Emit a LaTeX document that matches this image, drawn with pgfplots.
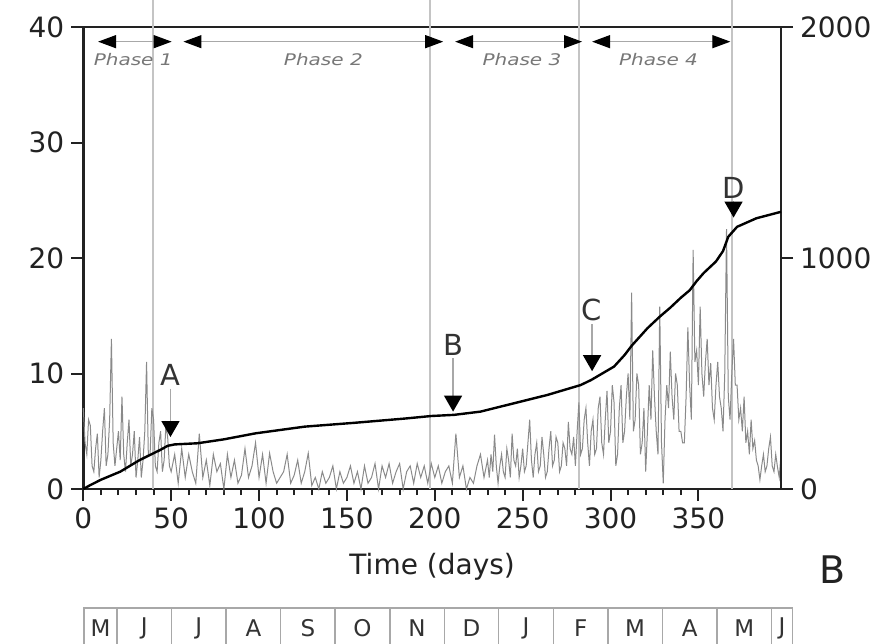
\documentclass[border=0pt]{standalone}
\usepackage{fontspec}
\setmainfont{DejaVu Sans}
\usepackage{pgfplots}
\pgfplotsset{compat=1.18}
\usepackage{pgfplotstable}
\usetikzlibrary{arrows.meta}

\definecolor{axisc}{HTML}{222222}
\definecolor{noisec}{HTML}{8A8A8A}
\definecolor{vlinec}{HTML}{C4C4C4}
\definecolor{boxc}{HTML}{A8A8A8}
\definecolor{textc}{HTML}{333333}
\definecolor{phasec}{HTML}{777777}

\pgfplotstableread{
day val
0 7
1 4
2 3
3 6
4 5.5
5 2
6 1.5
7 3.5
8 4.8
9 1
10 2.5
11 5
12 7
13 2
14 3
15 6
16 13
17 4
18 2
19 3.5
20 5
21 2.5
22 8
23 3
24 1.5
25 4
26 6
27 2
28 3
29 5
30 1
31 2.5
32 4.5
33 1
34 2.5
35 5
36 11
37 3
38 3
39 7
40 6
41 2
42 1.5
43 4
44 5
45 1.5
46 2.5
47 5.5
48 4.5
49 2
50 1.5
52 3
54 0.5
56 3.5
58 1
60 3
62 1.5
64 0.5
66 4.8
68 1
70 2.5
72 0.3
74 3
76 1.5
78 2.2
80 0
82 3
84 1
86 2.5
88 0.5
90 1.2
92 3.5
94 1
96 2
98 4
100 1
102 3
104 0.5
106 3.1
108 1.5
110 0.5
112 1
114 1.5
116 3
118 0.5
120 1.2
122 2.5
124 0.5
126 1.5
128 3.1
130 0.3
132 1
134 0
136 1.5
138 0.5
140 1
142 2
144 0
146 1.5
148 0.5
150 1
152 2
154 0.5
156 1.5
158 0
160 2
162 0.5
164 1
166 2.2
168 0
170 2
172 1
174 2.2
176 0.5
178 1.5
180 2.2
182 0
184 1.5
186 2
188 0.5
190 2.2
192 1
194 2
196 0.5
198 2.2
200 1
202 2
204 0.5
206 1.5
208 2
210 0.5
212 4.8
214 1
216 2
218 0
220 1
222 0.5
224 2
226 3
228 1
230 2.5
231 1
232 3
233 1.5
234 4.7
235 2
236 0.5
237 2
238 3
239 1.5
240 1
241 3.5
242 2.5
243 1
244 4.8
245 2.5
246 2
247 3.5
248 1
249 2
250 3.5
251 1.5
252 2
253 4
254 6
255 2.5
256 1
257 3
258 4
259 1.5
260 2
261 4.5
262 3
263 1
264 1.5
265 3.5
266 5
267 2
268 2.5
269 4.5
270 4
271 1.5
272 2
273 4
274 3.5
275 2
276 5.8
277 3.5
278 3
279 4.5
280 2
281 5
282 7.5
283 3
284 3.5
285 6
286 7
287 4
288 2
289 5
290 6
291 3
292 3.5
293 7
294 8
295 4
296 3
297 6
298 8.5
299 4
300 5
301 9
302 7.5
303 2
304 3
305 7
306 9
307 4
308 5
309 8
310 10
311 6
312 17
313 5
314 6
315 10
316 9
317 3
318 4
319 7
320 1.5
321 5
322 9
323 6
324 12
325 8
326 5
327 3
328 15.8
329 4
330 0.5
331 6
332 9
333 7
334 11.9
335 8
336 6
337 10
338 9
339 5
340 5
341 4
342 4
343 8
344 14
345 9
346 6
347 20.7
348 11
349 12
350 9
351 15.8
352 10
353 8
354 11
355 13
356 9
357 10.9
358 7
359 6
360 9
361 11
362 8
363 7
364 5
365 10
366 22.5
367 8
368 6
369 10
370 13
371 9
372 9
373 6
374 7
375 5
376 8
377 4
378 5
379 3
380 6
381 3.5
382 4.2
383 2.5
384 2
385 0.8
386 2
387 3
388 1.5
389 2
390 3.5
391 4.5
392 2
393 1.5
394 3
395 1.9
396 1
397 3
}\daily

\pgfplotstableread{
day cum
0 0
4 17
10 40
21 75
32 125
44 170
48 187
52 193
65 198
80 215
98 241
126 270
155 287
183 305
198 316
211 321
226 335
245 371
264 407
283 450
289 472
302 530
308 580
312 620
321 696
328 746
334 785
340 828
345 860
349 900
353 935
360 985
364 1030
367 1092
372 1135
383 1172
397 1200
}\cumul

\begin{document}
\begin{tikzpicture}
\useasboundingbox (-41.65pt,-77pt) rectangle (398.85pt,244.5pt);
\begin{axis}[
  at={(0,0)}, anchor=south west,
  scale only axis, width=348.85pt, height=231pt,
  xmin=0, xmax=397, ymin=0, ymax=40,
  xtick={0,50,...,350}, minor x tick num=4,
  ytick={0,10,...,40},
  tick pos=left, tick align=outside,
  major tick length=6pt, minor tick length=3pt,
  axis line style={axisc, line width=1.2pt},
  tick style={axisc, line width=1pt},
  ticklabel style={font=\fontsize{14}{16}\selectfont, text=axisc},
  /pgf/number format/assume math mode=true,
  /pgf/number format/1000 sep={},
  clip=false,
]
% phase boundary lines
\addplot[vlinec, line width=0.9pt] coordinates {(39.5,0) (39.5,43)};
\addplot[vlinec, line width=0.9pt] coordinates {(197.5,0) (197.5,43)};
\addplot[vlinec, line width=0.9pt] coordinates {(282,0) (282,43)};
\addplot[vlinec, line width=0.9pt] coordinates {(369,0) (369,43)};
% daily series
\addplot[noisec, line width=0.5pt] table[x=day,y=val]{\daily};

% phase arrows
\draw[boxc, line width=0.6pt, {Triangle[length=9pt,width=6.5pt,black]}-{Triangle[length=9pt,width=6.5pt,black]}] (axis cs:8.4,38.73) -- (axis cs:50.3,38.73);
\draw[boxc, line width=0.6pt, {Triangle[length=9pt,width=6.5pt,black]}-{Triangle[length=9pt,width=6.5pt,black]}] (axis cs:57,38.73) -- (axis cs:204.8,38.73);
\draw[boxc, line width=0.6pt, {Triangle[length=9pt,width=6.5pt,black]}-{Triangle[length=9pt,width=6.5pt,black]}] (axis cs:211.6,38.73) -- (axis cs:283.8,38.73);
\draw[boxc, line width=0.6pt, {Triangle[length=9pt,width=6.5pt,black]}-{Triangle[length=9pt,width=6.5pt,black]}] (axis cs:289.5,38.73) -- (axis cs:368.2,38.73);
\node[text=phasec, font=\fontsize{8}{9}\selectfont\itshape, xscale=1.25] at (axis cs:28.4,37.2) {Phase 1};
\node[text=phasec, font=\fontsize{8}{9}\selectfont\itshape, xscale=1.25] at (axis cs:136.6,37.2) {Phase 2};
\node[text=phasec, font=\fontsize{8}{9}\selectfont\itshape, xscale=1.25] at (axis cs:249.6,37.2) {Phase 3};
\node[text=phasec, font=\fontsize{8}{9}\selectfont\itshape, xscale=1.25] at (axis cs:327.3,37.2) {Phase 4};

% event markers
\draw[boxc, line width=0.7pt, -{Triangle[length=8pt,width=9pt,black]}] (axis cs:49.6,8.7) -- (axis cs:49.6,4.5);
\node[text=textc, font=\fontsize{14.5}{16}\selectfont] at (axis cs:49.6,9.9) {A};
\draw[boxc, line width=0.7pt, -{Triangle[length=8pt,width=9pt,black]}] (axis cs:210.4,11.3) -- (axis cs:210.4,6.7);
\node[text=textc, font=\fontsize{14.5}{16}\selectfont] at (axis cs:210.4,12.5) {B};
\draw[boxc, line width=0.7pt, -{Triangle[length=8pt,width=9pt,black]}] (axis cs:289.5,14.3) -- (axis cs:289.5,10.2);
\node[text=textc, font=\fontsize{14.5}{16}\selectfont] at (axis cs:289.5,15.5) {C};
\draw[boxc, line width=0.7pt, -{Triangle[length=8pt,width=9pt,black]}] (axis cs:370,24.9) -- (axis cs:370,23.5);
\node[text=textc, font=\fontsize{14.5}{16}\selectfont] at (axis cs:370,26.1) {D};

% labels
\node[text=axisc, font=\fontsize{14}{16}\selectfont] at (axis cs:198.5,-6.75) {Time (days)};
\node[text=axisc, font=\fontsize{19}{21}\selectfont] at (axis cs:426.3,-7.0) {B};

% month bar
\draw[boxc, line width=0.7pt] (axis cs:0.4,-16) -- (axis cs:0.4,-10.3) -- (axis cs:403.5,-10.3) -- (axis cs:403.5,-16);
\pgfplotsinvokeforeach{19.2,50.2,81.3,112.3,143.3,174.4,205.4,236.4,267.5,298.5,329.5,360.5,391.6}{
  \draw[boxc, line width=0.7pt] (axis cs:#1,-10.3) -- (axis cs:#1,-16);
}
\node[text=textc, font=\fontsize{11.5}{13}\selectfont] at (axis cs:9.8,-12.03) {M};
\node[text=textc, font=\fontsize{11.5}{13}\selectfont] at (axis cs:34.7,-12.03) {J};
\node[text=textc, font=\fontsize{11.5}{13}\selectfont] at (axis cs:65.75,-12.03) {J};
\node[text=textc, font=\fontsize{11.5}{13}\selectfont] at (axis cs:96.8,-12.03) {A};
\node[text=textc, font=\fontsize{11.5}{13}\selectfont] at (axis cs:127.8,-12.03) {S};
\node[text=textc, font=\fontsize{11.5}{13}\selectfont] at (axis cs:158.85,-12.03) {O};
\node[text=textc, font=\fontsize{11.5}{13}\selectfont] at (axis cs:189.9,-12.03) {N};
\node[text=textc, font=\fontsize{11.5}{13}\selectfont] at (axis cs:220.9,-12.03) {D};
\node[text=textc, font=\fontsize{11.5}{13}\selectfont] at (axis cs:251.95,-12.03) {J};
\node[text=textc, font=\fontsize{11.5}{13}\selectfont] at (axis cs:283,-12.03) {F};
\node[text=textc, font=\fontsize{11.5}{13}\selectfont] at (axis cs:314,-12.03) {M};
\node[text=textc, font=\fontsize{11.5}{13}\selectfont] at (axis cs:345,-12.03) {A};
\node[text=textc, font=\fontsize{11.5}{13}\selectfont] at (axis cs:376.05,-12.03) {M};
\node[text=textc, font=\fontsize{11.5}{13}\selectfont] at (axis cs:397.55,-12.03) {J};
\end{axis}

\begin{axis}[
  at={(0,0)}, anchor=south west,
  scale only axis, width=348.85pt, height=231pt,
  xmin=0, xmax=397, ymin=0, ymax=2000,
  axis x line=none, axis y line*=right,
  ytick={0,1000,2000},
  tick align=outside, major tick length=6pt,
  axis line style={axisc, line width=1.2pt},
  tick style={axisc, line width=1pt},
  ticklabel style={font=\fontsize{14}{16}\selectfont, text=axisc},
  /pgf/number format/assume math mode=true,
  /pgf/number format/1000 sep={},
  clip=false,
]
\addplot[black, line width=1.2pt] table[x=day,y=cum]{\cumul};
\end{axis}
\end{tikzpicture}
\end{document}
